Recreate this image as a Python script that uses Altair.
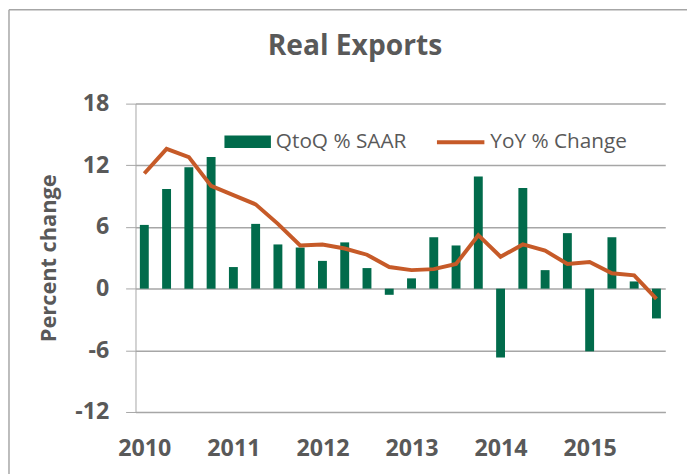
import altair as alt
import pandas as pd

quarters = [f"{y}Q{q}" for y in range(2010, 2016) for q in range(1, 5)]
qtoq = [6.2, 9.7, 11.8, 12.8, 2.1, 6.3, 4.3, 4.0, 2.7, 4.5, 2.0, -0.6,
        1.0, 5.0, 4.2, 10.9, -6.7, 9.8, 1.8, 5.4, -6.1, 5.0, 0.7, -2.9]
yoy = [11.2, 13.6, 12.8, 10.0, 9.1, 8.2, 6.3, 4.2, 4.3, 3.9, 3.3, 2.1,
       1.8, 1.9, 2.4, 5.2, 3.1, 4.3, 3.7, 2.4, 2.6, 1.5, 1.3, -1.0]
year_ticks = [0, 4, 8, 12, 16, 20]
y_ticks = [-12, -6, 0, 6, 12, 18]

df = pd.DataFrame({
    "quarter": quarters,
    "idx": list(range(len(quarters))),
    "qtoq": qtoq,
    "yoy": yoy,
    "s1": "QtoQ % SAAR",
    "s2": "YoY % Change",
})

GREY = "#595959"
LINE_GREY = "#a6a6a6"
FONT = "Open Sans"

xscale = alt.Scale(domain=[-0.174, 23.174], nice=False, zero=False)
yscale = alt.Scale(domain=[-12, 18], nice=False)

xaxis = alt.Axis(values=year_ticks, labelExpr="'' + (2010 + datum.value / 4)",
                 title=None, grid=False, ticks=False, domain=True,
                 domainColor=LINE_GREY, labelFont=FONT, labelFontSize=23.5,
                 labelFontWeight="bold", labelColor=GREY, labelPadding=25,
                 labelFlush=False, labelOverlap=False)
yaxis = alt.Axis(values=y_ticks, labelExpr="'' + datum.value",
                 title="Percent change", grid=True,
                 gridColor=LINE_GREY, gridWidth=1.5, domainColor=LINE_GREY,
                 tickColor=LINE_GREY, tickSize=10, labelFont=FONT,
                 labelFontSize=23.5, labelFontWeight="bold", labelColor=GREY,
                 labelPadding=17, titleFont=FONT, titleFontSize=22,
                 titleFontWeight="bold", titleColor=GREY, titlePadding=14)

bars = alt.Chart(df).mark_bar(size=9).encode(
    x=alt.X("idx:Q", scale=xscale, axis=xaxis),
    y=alt.Y("qtoq:Q", scale=yscale, axis=yaxis),
    y2=alt.datum(0),
    fill=alt.Fill("s1:N", scale=alt.Scale(range=["#016B4B"]),
                  legend=alt.Legend(title=None, orient="none", legendX=89,
                                    legendY=14, padding=0,
                                    symbolType="M-1,-0.27H1V0.27H-1Z",
                                    symbolSize=2209, labelOffset=4,
                                    labelFont=FONT, labelFontSize=21,
                                    labelColor=GREY, symbolOpacity=1)),
)

line = alt.Chart(df).mark_line(strokeWidth=4).encode(
    x=alt.X("idx:Q", scale=xscale),
    y=alt.Y("yoy:Q", scale=yscale),
    stroke=alt.Stroke("s2:N", scale=alt.Scale(range=["#C65A28"]),
                      legend=alt.Legend(title=None, orient="none", legendX=303,
                                        legendY=13, padding=0,
                                        symbolType="stroke", symbolSize=2304,
                                        symbolStrokeWidth=4, labelOffset=4,
                                        labelFont=FONT, labelFontSize=21,
                                        labelColor=GREY)),
)

frame_df = pd.DataFrame({"a": [0]})
frame_left = alt.Chart(frame_df).mark_rule(color=LINE_GREY, strokeWidth=1.5).encode(
    x=alt.value(-128), y=alt.value(-95), y2=alt.value(400))
frame_top = alt.Chart(frame_df).mark_rule(color=LINE_GREY, strokeWidth=1.5).encode(
    x=alt.value(-128), x2=alt.value(600), y=alt.value(-95))

chart = alt.layer(frame_left, frame_top, bars, line).properties(
    width=536, height=312,
    title=alt.TitleParams("Real Exports", font=FONT, fontSize=28.5,
                          fontWeight="bold", color=GREY, anchor="middle",
                          dx=-46, offset=-52),
    autosize=alt.AutoSizeParams(type="none"),
    padding={"left": 129, "top": 94, "right": 22, "bottom": 60},
).configure_view(stroke=None).resolve_scale(fill="independent", stroke="independent")

chart.save("out.html", embed_options={"renderer": "svg", "actions": False})
